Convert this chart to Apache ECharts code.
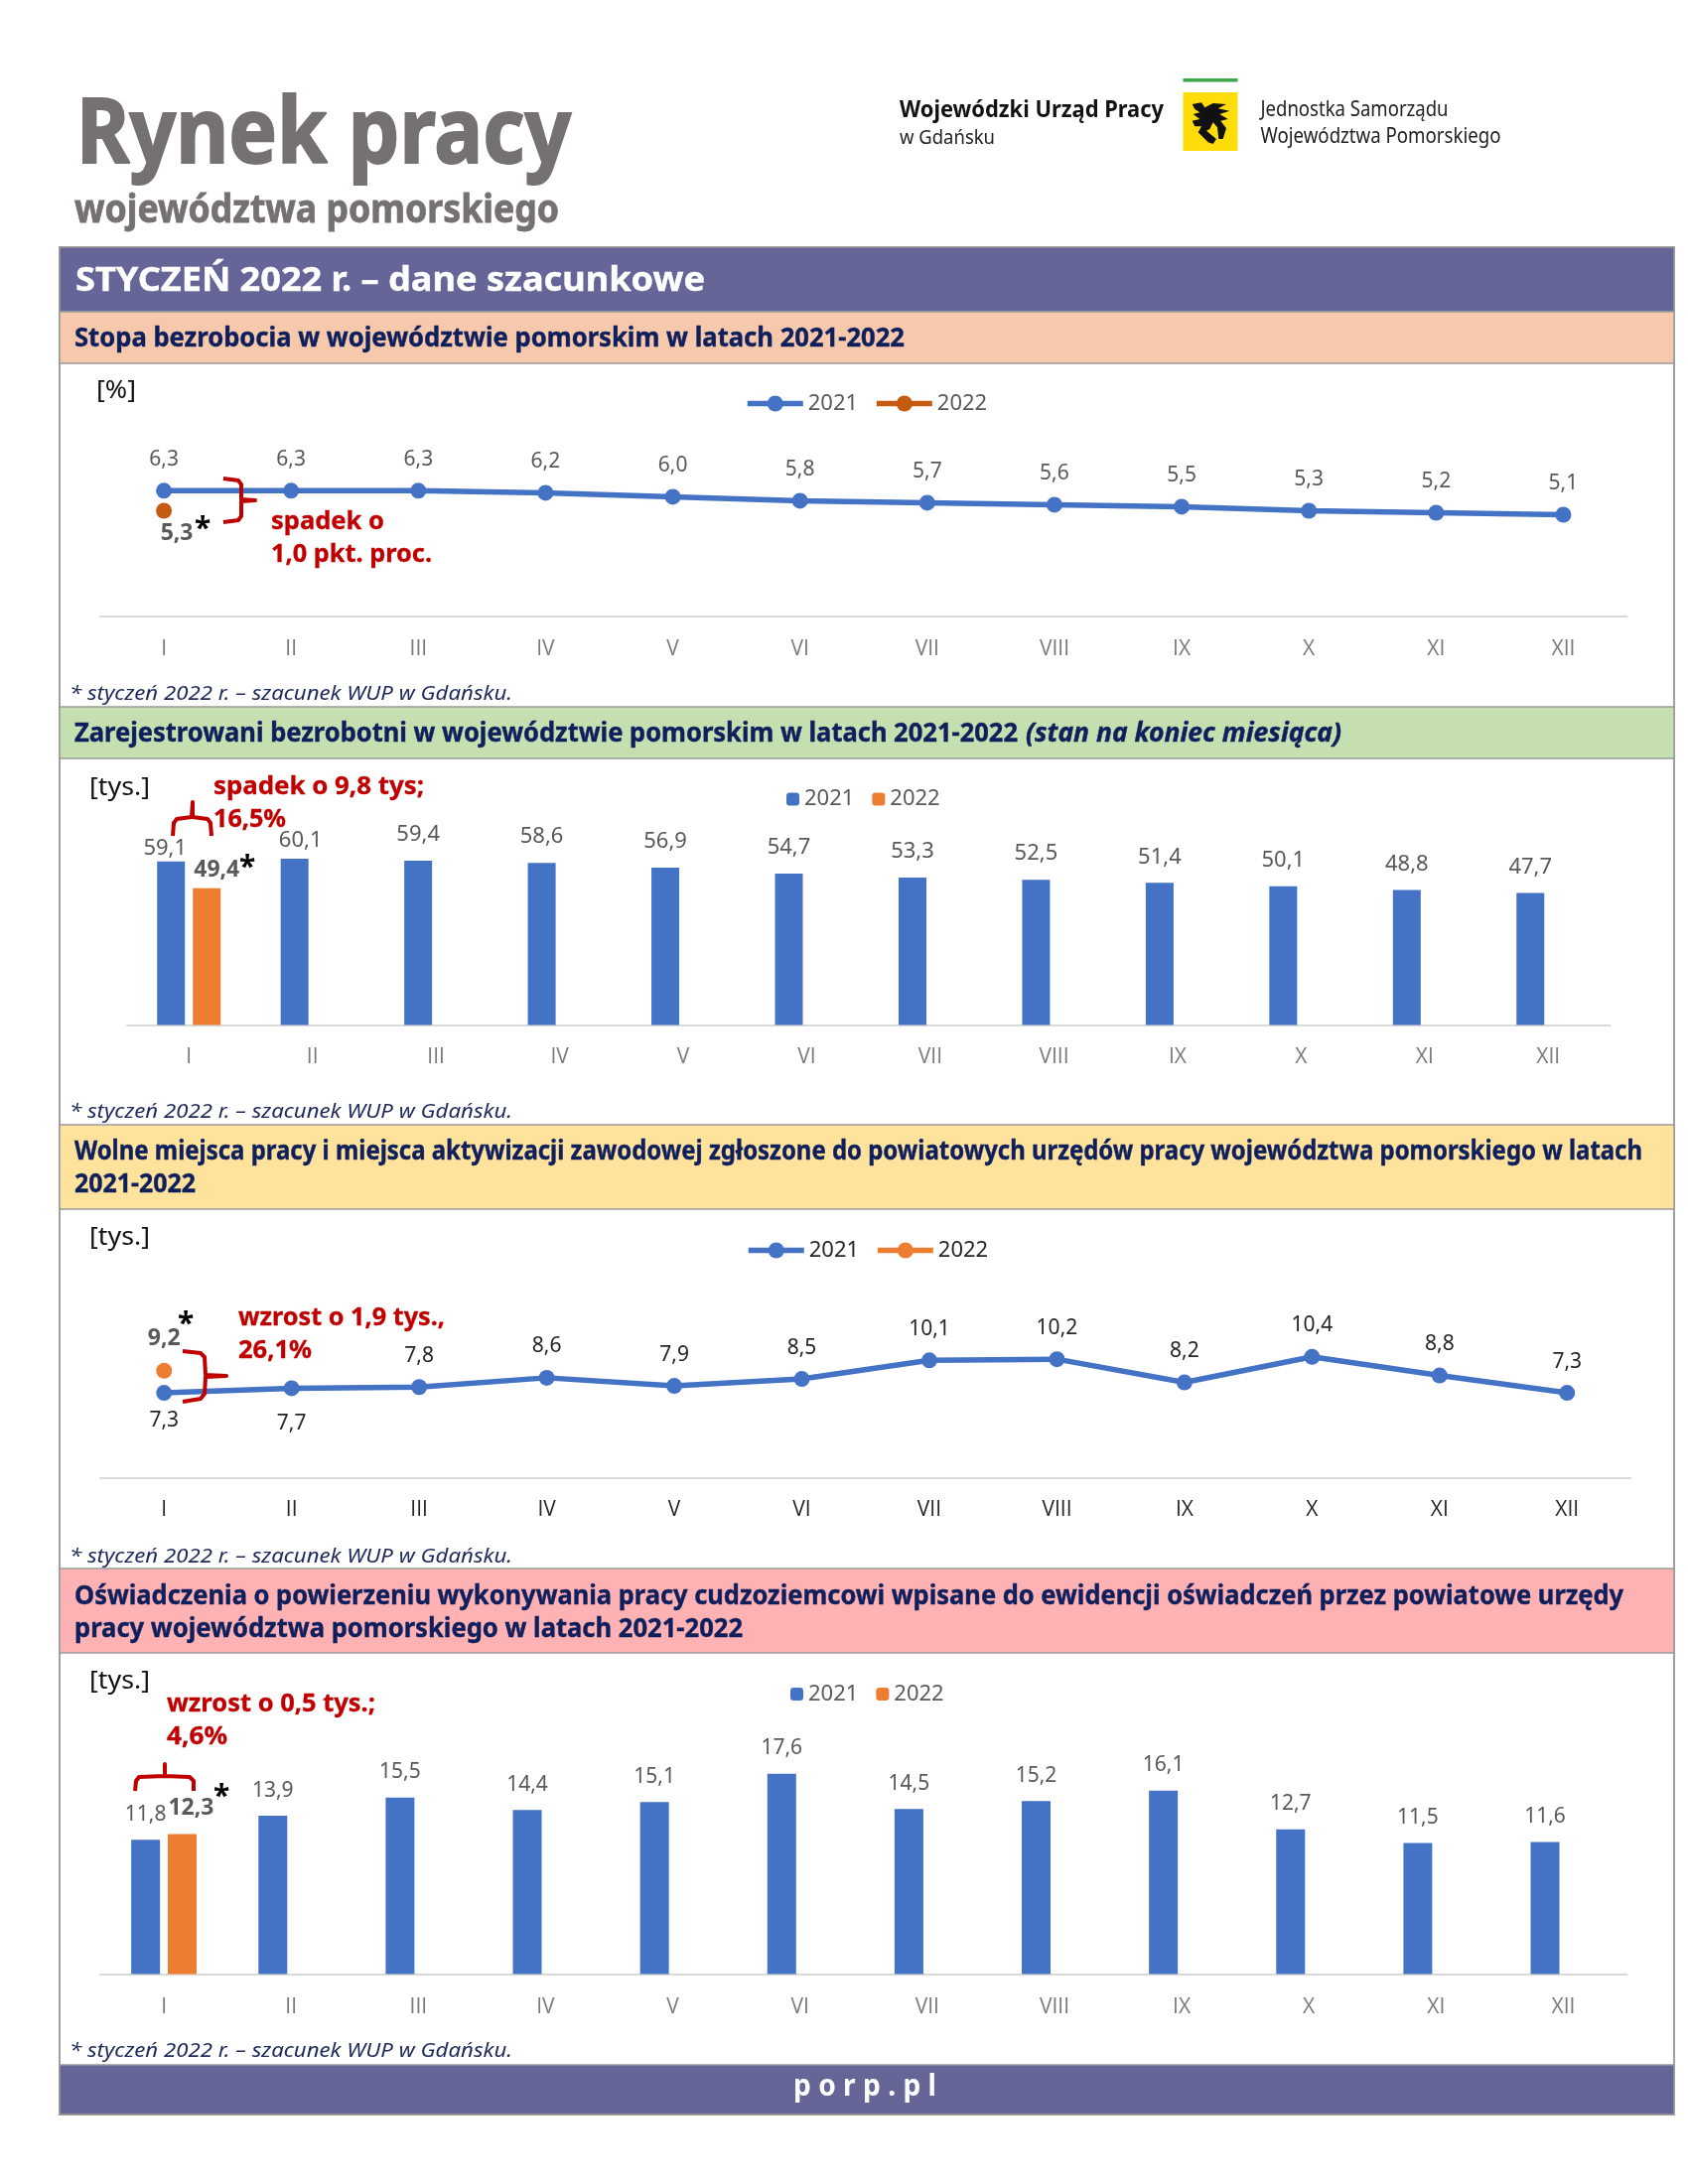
<!DOCTYPE html>
<html lang="pl">
<head>
<meta charset="utf-8">
<title>Rynek pracy województwa pomorskiego</title>
<style>html,body{margin:0;padding:0;background:#fff}#c{width:1700px;height:2200px}</style>
<script src="https://cdn.jsdelivr.net/npm/echarts@6/dist/echarts.min.js"></script>
</head>
<body>
<div id="c"></div>
<script>
// ---- data ----
const months = ['I','II','III','IV','V','VI','VII','VIII','IX','X','XI','XII'];
const unemploymentRate2021 = [6.3,6.3,6.3,6.2,6.0,5.8,5.7,5.6,5.5,5.3,5.2,5.1];
const unemploymentRate2022 = [5.3];
const registered2021 = [59.1,60.1,59.4,58.6,56.9,54.7,53.3,52.5,51.4,50.1,48.8,47.7];
const registered2022 = [49.4];
const vacancies2021 = [7.3,7.7,7.8,8.6,7.9,8.5,10.1,10.2,8.2,10.4,8.8,7.3];
const vacancies2022 = [9.2];
const declarations2021 = [11.8,13.9,15.5,14.4,15.1,17.6,14.5,15.2,16.1,12.7,11.5,11.6];
const declarations2022 = [12.3];

const FONT = '"Noto Sans"';
const BLUE = '#4472C4', ORANGE = '#ED7D31', DARK_ORANGE = '#C55A11';
const RED = '#C00000', NAVY = '#0F1F5C', GREY = '#595959', TITLE = '#767171', PURPLE = '#656598';
const comma = v => v.toFixed(1).replace('.', ',');

const el = document.getElementById('c');
const chart = echarts.init(el, null, {width:1700, height:2200});

const ctx = document.createElement('canvas').getContext('2d');
function txt(text, x, y, size, fill, opts) {
  opts = opts || {};
  const font = (opts.italic ? 'italic ' : '') + (opts.bold ? 'bold ' : '') + size + 'px ' + FONT;
  ctx.font = font;
  const sx = opts.w ? opts.w / ctx.measureText(text).width : 1;
  const style = {text, x:0, y:0, font, fill, textAlign:'left', textVerticalAlign:'middle', verticalAlign:'middle'};
  if (opts.heavy) { style.stroke = fill; style.lineWidth = opts.heavy; }
  return {type:'text', x, y:y + 2.5, scaleX:sx, z:60, silent:true, style};
}
function band(y0, y1, fill) {
  return {type:'rect', z:1, silent:true, shape:{x:60,y:y0,width:1626,height:y1-y0},
    style:{fill, stroke:'#9A9A9A', lineWidth:1.5}};
}
function brace(points) {
  return {type:'polyline', z:50, silent:true, shape:{points},
    style:{stroke:RED, lineWidth:4, fill:null, lineJoin:'round', lineCap:'butt'}};
}
const star = (x, y) => txt('*', x - 7, y + 4, 30, '#000', {bold:true});
const note = y => txt('* styczeń 2022 r. – szacunek WUP w Gdańsku.', 70, y, 20, '#1F2A5A', {italic:true, w:446});
const head = (text, x, y, w, italic) => txt(text, x, y, 26, NAVY, {bold:true, italic, w, heavy:0.4});
const redText = (text, x, y, w) => txt(text, x, y - 0.5, 25, RED, {bold:true, w, heavy:0.3});

const griffin = [[32,45],[60,40],[70,55],[95,42],[135,45],[110,58],[145,65],[115,75],[140,90],[118,95],[135,118],[125,150],[112,150],[108,115],[95,100],[85,120],[75,125],[105,150],[95,165],[80,160],[50,130],[60,112],[40,112],[32,95],[55,90],[35,75],[55,70],[40,60]];

const graphics = [
  txt('Rynek pracy', 77, 135.5, 92, TITLE, {bold:true, w:498, heavy:2}),
  txt('województwa pomorskiego', 75, 210, 40, TITLE, {bold:true, w:488, heavy:0.8}),
  txt('Wojewódzki Urząd Pracy', 906, 109, 24, '#111', {bold:true, w:266}),
  txt('w Gdańsku', 906, 137, 20, '#222', {w:96}),
  txt('Jednostka Samorządu', 1269.5, 109, 21, '#222', {w:189}),
  txt('Województwa Pomorskiego', 1269.5, 136, 21, '#222', {w:242}),
  {type:'rect', z:2, silent:true, shape:{x:1191.5,y:79,width:55,height:3.5}, style:{fill:'#3BA64A'}},
  {type:'rect', z:2, silent:true, shape:{x:1191.5,y:93,width:55,height:59}, style:{fill:'#FFDC0A'}},
  {type:'polygon', z:3, silent:true, x:1190, y:90, scaleX:1/3, scaleY:1/3,
    shape:{points:griffin}, style:{fill:'#111'}},

  {type:'rect', z:0, silent:true, shape:{x:60,y:249,width:1626,height:1881}, style:{fill:'#fff', stroke:'#A0A0A0', lineWidth:2}},
  band(249, 314, PURPLE),
  band(314, 366, '#F6C9AC'),
  band(712, 764, '#C5DFB0'),
  band(1133, 1218, '#FFE29C'),
  band(1580, 1665, '#FFB2B4'),
  band(2080, 2130, PURPLE),

  txt('STYCZEŃ 2022 r. – dane szacunkowe', 76, 281, 34, '#fff', {bold:true, w:634, heavy:0.4}),
  head('Stopa bezrobocia w województwie pomorskim w latach 2021-2022', 75, 339, 836),
  head('Zarejestrowani bezrobotni w województwie pomorskim w latach 2021-2022', 75, 737, 950),
  head('(stan na koniec miesiąca)', 1033, 737, 318, true),
  head('Wolne miejsca pracy i miejsca aktywizacji zawodowej zgłoszone do powiatowych urzędów pracy województwa pomorskiego w latach', 75, 1158, 1579),
  head('2021-2022', 75, 1191, 122),
  head('Oświadczenia o powierzeniu wykonywania pracy cudzoziemcowi wpisane do ewidencji oświadczeń przez powiatowe urzędy', 75, 1606, 1560),
  head('pracy województwa pomorskiego w latach 2021-2022', 75, 1639, 673),
  txt('p o r p . p l', 799, 2099.5, 31, '#fff', {bold:true, w:144}),

  note(697), note(1118), note(1566), note(2064),

  txt('[%]', 97, 391, 25, '#111', {w:40}),
  txt('[tys.]', 90, 791, 25, '#111', {w:61}),
  txt('[tys.]', 90, 1244, 25, '#111', {w:61}),
  txt('[tys.]', 90, 1691, 25, '#111', {w:61}),

  redText('spadek o', 273, 524, 114),
  redText('1,0 pkt. proc.', 273, 557, 162),
  redText('spadek o 9,8 tys;', 215, 791, 212),
  redText('16,5%', 215, 824, 73),
  redText('wzrost o 1,9 tys.,', 240, 1326, 208),
  redText('26,1%', 240, 1359, 74),
  redText('wzrost o 0,5 tys.;', 168, 1715, 210),
  redText('4,6%', 168, 1748, 61),

  brace([[225,482],[240,484],[243,488],[243,503],[257,504],[243,505],[243,520],[240,524],[225,526]]),
  brace([[174,842],[175,829],[178,825],[193,823],[194,808],[194,823],[209,825],[212,829],[213,842]]),
  brace([[184,1361],[202,1363],[206,1367],[207,1385],[228,1386],[207,1387],[206,1404],[202,1409],[184,1412]]),
  brace([[136,1804],[137,1794],[140,1790],[166,1789],[166,1777],[166,1789],[191,1790],[195,1794],[195,1804]]),

  star(203, 527), star(248, 867.5), star(186, 1327.5), star(222, 1804)
];

// ---- grids: layout only ----
const panels = [
  {left:101, width:1537.5, top:420,    height:201},
  {left:128, width:1493.5, top:753.8,  height:278.7},
  {left:101, width:1541.5, top:1254.5, height:234},
  {left:101, width:1537.5, top:1759.1, height:229.4}
];
const yMax = [10, 100, 20, 20];
const axisLabelColor = ['#7A7A7A', '#7A7A7A', '#262626', '#7A7A7A'];
const axisMargin = [23, 22.5, 22, 23];

const grid = panels.map(p => ({left:p.left, width:p.width, top:p.top, height:p.height}));
const xAxis = panels.map((p, i) => ({
  gridIndex:i, type:'category', data:months,
  axisLine:{lineStyle:{color:'#D9D9D9', width:2}}, axisTick:{show:false},
  axisLabel:{color:axisLabelColor[i], fontFamily:'"Open Sans"', fontSize:21, margin:axisMargin[i]}
}));
const yAxis = panels.map((p, i) => ({gridIndex:i, type:'value', min:0, max:yMax[i], show:false, splitLine:{show:false}}));

function items(values, adjust, base) {
  return values.map((value, i) => adjust[i] ? {value, label:Object.assign({}, base, adjust[i])} : value);
}
function padded(values) { return months.map((m, i) => i < values.length ? values[i] : null); }

function lineSeries(name, values, gridIndex, color, adjust, labelColor, opts) {
  opts = opts || {};
  const label = {show:true, position:'top', distance:13, color:labelColor, fontFamily:FONT, fontSize:opts.bold ? 23 : 21,
    fontWeight:opts.bold ? 'bold' : 'normal', formatter:p => comma(p.value)};
  return {
    name, type:'line', xAxisIndex:gridIndex, yAxisIndex:gridIndex, z:opts.z || 5,
    data:items(padded(values), adjust, label), label,
    symbol:'circle', symbolSize:16, showAllSymbol:true, connectNulls:false,
    lineStyle:{color, width:5.5}, itemStyle:{color}, emphasis:{disabled:true}, animation:false
  };
}
function barSeries(name, values, gridIndex, color, adjust, opts) {
  opts = opts || {};
  const label = {show:true, position:'top', distance:15, color:GREY, fontFamily:FONT, fontSize:opts.bold ? 23 : (opts.size || 21),
    fontWeight:opts.bold ? 'bold' : 'normal', formatter:p => comma(p.value)};
  return {
    name, type:'bar', xAxisIndex:gridIndex, yAxisIndex:gridIndex, z:5,
    barWidth:opts.barWidth, barGap:opts.barGap,
    data:items(padded(values), adjust, label), label,
    itemStyle:{color}, emphasis:{disabled:true}, animation:false
  };
}

const series = [
  lineSeries('Stopa bezrobocia 2021', unemploymentRate2021, 0, BLUE, {}, GREY),
  lineSeries('Stopa bezrobocia 2022', unemploymentRate2022, 0, DARK_ORANGE,
    {0:{position:'bottom', distance:3, offset:[13,0]}}, GREY, {bold:true, z:4}),
  barSeries('Zarejestrowani 2021', registered2021, 1, BLUE,
    {0:{distance:2, offset:[-6,0]}, 1:{distance:7, offset:[6,0]}}, {barWidth:28, barGap:'28.6%', size:22}),
  barSeries('Zarejestrowani 2022', registered2022, 1, ORANGE,
    {0:{distance:7, offset:[10,0]}}, {barWidth:28, barGap:'28.6%', bold:true}),
  lineSeries('Wolne miejsca 2021', vacancies2021, 2, BLUE,
    {0:{position:'bottom', distance:9}, 1:{position:'bottom', distance:17.5}}, '#262626'),
  lineSeries('Wolne miejsca 2022', vacancies2022, 2, ORANGE, {}, GREY, {bold:true, z:4}),
  barSeries('Oświadczenia 2021', declarations2021, 3, BLUE, {}, {barWidth:29, barGap:'27%'}),
  barSeries('Oświadczenia 2022', declarations2022, 3, ORANGE,
    {0:{offset:[9,0], distance:14}}, {barWidth:29, barGap:'27%', bold:true})
];

function legend(prefix, left, top, isLine, color) {
  return {
    left, top, orient:'horizontal', selectedMode:false, padding:0,
    data:[prefix + ' 2021', prefix + ' 2022'],
    formatter:n => n.slice(-4),
    itemWidth:isLine ? 56 : 13, itemHeight:isLine ? 20 : 13, itemGap:isLine ? 16 : 18,
    lineStyle:{width:5.5},
    textStyle:{color, fontFamily:FONT, fontSize:22}
  };
}

chart.setOption({
  backgroundColor:'#fff',
  animation:false,
  grid, xAxis, yAxis, series,
  legend:[
    legend('Stopa bezrobocia', 750, 395.5, true, GREY),
    legend('Zarejestrowani', 792, 794, false, GREY),
    legend('Wolne miejsca', 751, 1248.5, true, '#262626'),
    legend('Oświadczenia', 796, 1695.5, false, GREY)
  ],
  graphic:{elements:graphics}
});
</script>
</body>
</html>
